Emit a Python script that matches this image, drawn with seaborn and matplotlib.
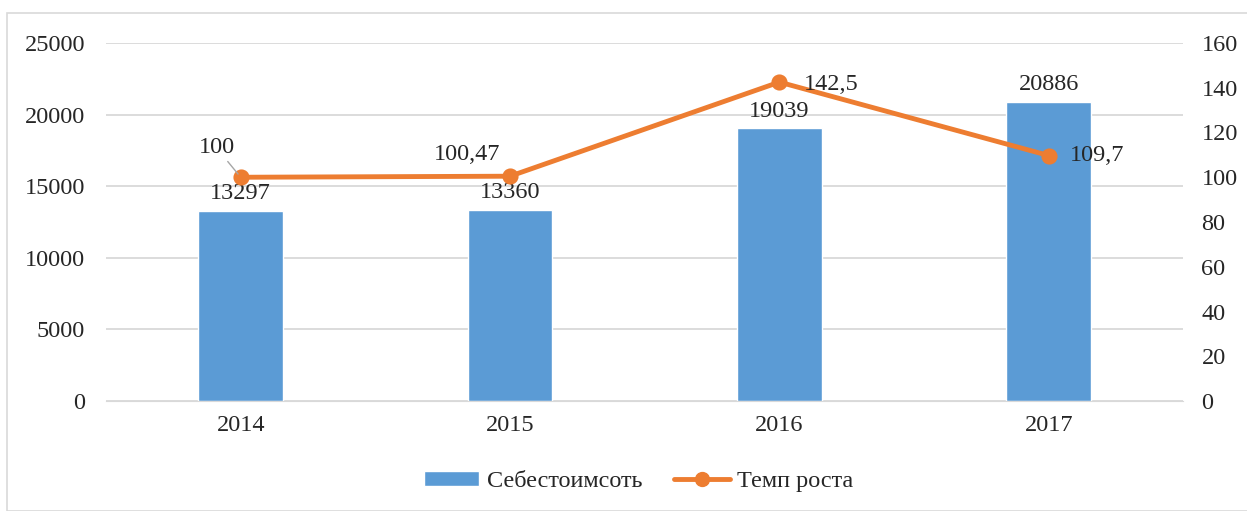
import seaborn as sns
import pandas as pd
import matplotlib.pyplot as plt
from matplotlib.patches import Rectangle
from matplotlib.lines import Line2D
from matplotlib.patches import Patch

years = ["2014", "2015", "2016", "2017"]
cost = [13297, 13360, 19039, 20886]
growth = [100, 100.47, 142.5, 109.7]
growth_labels = ["100", "100,47", "142,5", "109,7"]

blue = "#5B9BD5"
orange = "#ED7D31"
fs = 17.5

sns.set_style("white")
plt.rcParams["font.family"] = ["Liberation Serif", "DejaVu Serif"]

df = pd.DataFrame({"year": years, "cost": cost, "growth": growth})

fig = plt.figure(figsize=(12.47, 5.11), dpi=100)
ax = fig.add_axes([0.085, 0.215, 0.864, 0.701])

sns.barplot(data=df, x="year", y="cost", color=blue, width=0.315,
            saturation=1, ax=ax, zorder=2)
ax.set_ylim(0, 25000)
ax.set_yticks(range(0, 25001, 5000))
ax.set_xlim(-0.5, 3.5)
ax.grid(axis="y", color="#d9d9d9", linewidth=1.3, zorder=0)
ax.set_axisbelow(True)
for s in ax.spines.values():
    s.set_visible(False)
ax.spines["bottom"].set_visible(True)
ax.spines["bottom"].set_color("#d9d9d9")
ax.set_xlabel("")
ax.set_ylabel("")
ax.tick_params(axis="x", length=0, labelsize=fs, pad=10)
ax.tick_params(axis="y", length=0, labelsize=fs, pad=15)

for i, v in enumerate(cost):
    ax.text(i, v + 450, str(v), ha="center", va="bottom", fontsize=fs)

ax2 = ax.twinx()
sns.pointplot(data=df, x="year", y="growth", color=orange, markers="o",
              markersize=9, linewidth=3.5, ax=ax2)
ax2.set_ylim(0, 160)
ax2.set_yticks(range(0, 161, 20))
ax2.set_xlim(-0.5, 3.5)
for s in ax2.spines.values():
    s.set_visible(False)
ax2.set_ylabel("")
ax2.tick_params(axis="y", length=0, labelsize=fs, pad=13)

# labels for growth
ax2.annotate(growth_labels[0], xy=(0, growth[0]), xytext=(-0.09, growth[0] + 8.5),
             ha="center", va="bottom", fontsize=fs,
             arrowprops=dict(arrowstyle="-", color="#a6a6a6", lw=1,
                             shrinkA=0, shrinkB=3))
ax2.text(0.84, growth[1] + 5, growth_labels[1], ha="center", va="bottom", fontsize=fs)
ax2.text(2.09, growth[2] - 1, growth_labels[2], ha="left", va="center", fontsize=fs)
ax2.text(3.08, growth[3], growth_labels[3], ha="left", va="center", fontsize=fs)

handles = [Patch(facecolor=blue, label="Себестоимсоть"),
           Line2D([0], [0], color=orange, lw=3.5, marker="o", markersize=10,
                  label="Темп роста")]
fig.legend(handles=handles, loc="center", bbox_to_anchor=(0.512, 0.058), ncol=2,
           frameon=False, fontsize=fs, handlelength=2.3, handleheight=0.6,
           columnspacing=1.3, handletextpad=0.3)

fig.patches.append(Rectangle((7 / 1247, 0), 1.1, 1 - 13 / 511,
                             transform=fig.transFigure, fill=False,
                             edgecolor="#d9d9d9", linewidth=1.2))

fig.savefig("out.png", dpi=100)
